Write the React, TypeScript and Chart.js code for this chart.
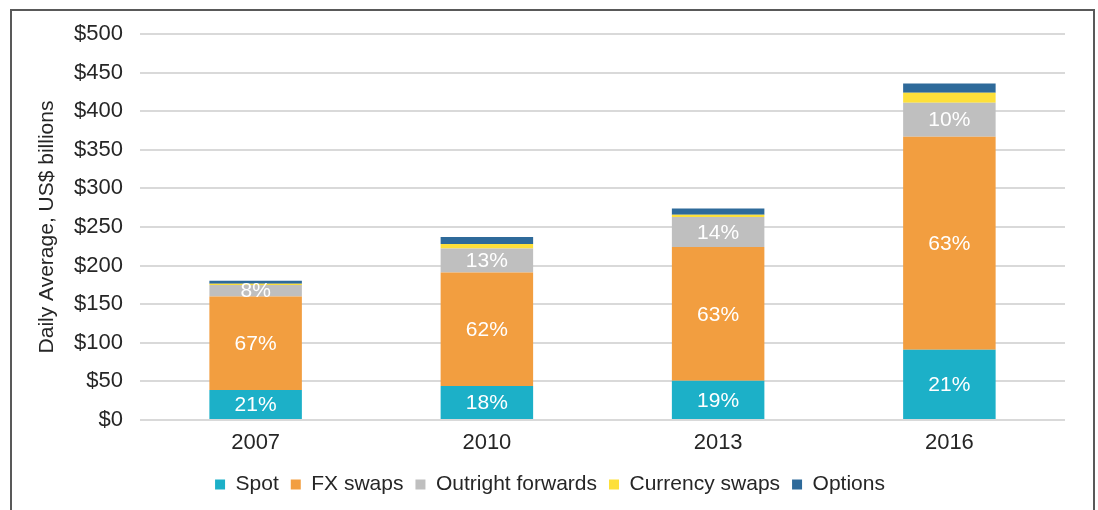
import React, { useEffect, useRef } from "react";
import { Chart, registerables } from "chart.js";

Chart.register(...registerables);

const years = ["2007", "2010", "2013", "2016"];
const spot = [39, 44, 51, 91];
const fxSwaps = [121, 147, 173, 276];
const outrightForwards = [15, 31, 39, 44];
const currencySwaps = [1.5, 6, 3, 13];
const options = [4, 9, 8, 12];

const spotLabels = ["21%", "18%", "19%", "21%"];
const fxLabels = ["67%", "62%", "63%", "63%"];
const outrightLabels = ["8%", "13%", "14%", "10%"];

const yTicks = [0, 50, 100, 150, 200, 250, 300, 350, 400, 450, 500];

const FONT = "'Liberation Sans', Arial, sans-serif";

const segmentLabels = {
  id: "segmentLabels",
  afterDatasetsDraw(chart: any) {
    const ctx = chart.ctx;
    const sets = [spotLabels, fxLabels, outrightLabels];
    ctx.save();
    ctx.fillStyle = "#ffffff";
    ctx.font = `21px ${FONT}`;
    ctx.textAlign = "center";
    ctx.textBaseline = "middle";
    sets.forEach((labels, di) => {
      const meta = chart.getDatasetMeta(di);
      meta.data.forEach((el: any, i: number) => {
        const y = (el.y + el.base) / 2;
        ctx.fillText(labels[i], el.x, y + 1);
      });
    });
    ctx.restore();
  },
};

export default function App() {
  const ref = useRef<HTMLCanvasElement | null>(null);

  useEffect(() => {
    document.body.style.margin = "0";
    const canvas = ref.current;
    if (!canvas) return;
    const chart = new Chart(canvas, {
      type: "bar",
      data: {
        labels: years,
        datasets: [
          { label: "Spot", data: spot, backgroundColor: "#1cb0c8" },
          { label: "FX swaps", data: fxSwaps, backgroundColor: "#f29e40" },
          { label: "Outright forwards", data: outrightForwards, backgroundColor: "#bfbfbf" },
          { label: "Currency swaps", data: currencySwaps, backgroundColor: "#fde03a" },
          { label: "Options", data: options, backgroundColor: "#2e6a9a" },
        ],
      },
      options: {
        animation: false,
        responsive: false,
        maintainAspectRatio: false,
        layout: { padding: { left: 35, right: 33, top: 34, bottom: 5 } },
        datasets: {
          bar: { categoryPercentage: 1, barPercentage: 0.4 },
        } as any,
        scales: {
          x: {
            stacked: true,
            grid: { display: false },
            border: { display: false },
            afterFit(scale: any) {
              scale.height = 42;
            },
            ticks: {
              padding: 2,
              color: "#262626",
              font: { family: FONT, size: 22 },
            },
          },
          y: {
            stacked: true,
            min: 0,
            max: 500,
            afterBuildTicks(scale: any) {
              scale.ticks = yTicks.map((v) => ({ value: v }));
            },
            afterFit(scale: any) {
              scale.width = 105;
            },
            grid: { color: "#d9d9d9", lineWidth: 2, drawTicks: false },
            border: { display: false },
            ticks: {
              padding: 17,
              color: "#262626",
              font: { family: FONT, size: 22 },
              callback: (v: any) => "$" + v,
            },
            title: {
              display: true,
              text: "Daily Average, US$ billions",
              color: "#262626",
              font: { family: FONT, size: 21 },
              padding: 0,
            },
          },
        },
        plugins: {
          legend: {
            position: "bottom",
            labels: {
              boxWidth: 10,
              boxHeight: 10,
              padding: 12,
              color: "#262626",
              font: { family: FONT, size: 21 },
            },
          },
          tooltip: { enabled: false },
        },
      },
      plugins: [segmentLabels],
    });
    return () => chart.destroy();
  }, []);

  return (
    <div style={{ position: "relative", width: 1098, height: 510, overflow: "hidden", background: "#fff" }}>
      <canvas ref={ref} width={1098} height={510} style={{ display: "block" }} />
      <div
        style={{
          position: "absolute",
          left: 10,
          top: 9,
          width: 1081,
          height: 520,
          border: "2px solid #595959",
          borderBottom: "none",
          pointerEvents: "none",
        }}
      />
    </div>
  );
}
